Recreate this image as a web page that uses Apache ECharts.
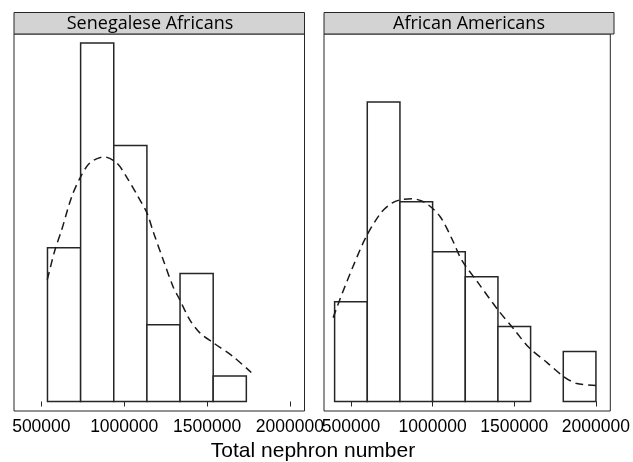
<!DOCTYPE html>
<html><head><meta charset="utf-8">
<script src="https://cdn.jsdelivr.net/npm/echarts@6/dist/echarts.min.js"></script>
<style>html,body{margin:0;padding:0;background:#fff}#c{width:633px;height:462px}</style>
</head><body><div id="c"></div>
<script>
// Panel titles
const panels = ['Senegalese Africans', 'African Americans'];
// Histogram bin breaks and counts
const leftBreaks = [537000, 737000, 937000, 1137000, 1337000, 1537000, 1737000];
const leftCounts = [6, 14, 10, 3, 5, 1];
const rightBreaks = [400000, 600000, 800000, 1000000, 1200000, 1400000, 1600000, 1800000, 2000000];
const rightCounts = [4, 12, 8, 6, 5, 3, 0, 2];
// Density curves (in percent-of-total-per-bin units)
const leftDensX = [536000, 582500, 623000, 683000, 737000, 793000, 877700, 954000, 1014000, 1084000, 1137000, 1175000, 1235000, 1295000, 1335000, 1395000, 1455000, 1536000, 1657000, 1767000];
const leftDensY = [12.2, 15.2, 17.2, 20.5, 22.5, 23.9, 24.5, 23.9, 22.5, 20.5, 18.9, 17.0, 14.2, 11.5, 10.2, 8.2, 6.9, 5.9, 4.5, 2.9];
const rightDensX = [391000, 431700, 512100, 593100, 683800, 753900, 804700, 874800, 955800, 1046500, 1120800, 1177000, 1278000, 1399000, 1500000, 1590000, 1701000, 1802000, 1883000, 2000000];
const rightDensY = [8.4, 10.2, 13.5, 16.5, 18.9, 19.9, 20.2, 20.3, 19.9, 18.5, 16.2, 14.2, 11.9, 9.2, 7.2, 5.4, 3.9, 2.5, 1.8, 1.6];
// Tick labels
const xTicks = [500000, 1000000, 1500000, 2000000];
const xLabel = 'Total nephron number';

function histData(breaks, counts) {
  const total = counts.reduce((a, b) => a + b, 0);
  const out = [];
  for (let i = 0; i < counts.length; i++) {
    if (counts[i] > 0) out.push([breaks[i], breaks[i + 1], counts[i] / total * 100]);
  }
  return out;
}
function zip(xs, ys) { return xs.map((x, i) => [x, ys[i]]); }

const renderBar = function (params, api) {
  const p0 = api.coord([api.value(0), api.value(2)]);
  const p1 = api.coord([api.value(1), 0]);
  return {
    type: 'rect',
    shape: { x: p0[0], y: p0[1], width: p1[0] - p0[0], height: p1[1] - p0[1] },
    style: { fill: '#fff', stroke: '#262626', lineWidth: 1.5 }
  };
};

const grids = [
  { left: 14, right: 328.5, top: 34, bottom: 51 },
  { left: 324, right: 19, top: 34, bottom: 51 }
];
const xAxes = grids.map((g, i) => ({
  type: 'value', gridIndex: i, min: 335000, max: 2088000,
  splitLine: { show: false },
  axisLine: { show: false },
  axisTick: { show: true, length: 5, inside: false, customValues: xTicks, lineStyle: { color: '#262626', width: 1 } },
  axisLabel: { show: true, customValues: xTicks, margin: 7, fontSize: 17.5, color: '#000', fontFamily: 'Liberation Sans, Arial, sans-serif', formatter: v => String(v) }
}));
const yAxes = grids.map((g, i) => ({
  type: 'value', gridIndex: i, min: -0.95, max: 36.8, show: false, splitLine: { show: false }
}));

const chart = echarts.init(document.getElementById('c'), null, { renderer: 'canvas' });
chart.setOption({
  backgroundColor: '#fff',
  animation: false,
  grid: grids.map(g => Object.assign({ show: true, borderColor: '#262626', borderWidth: 1, backgroundColor: 'transparent' }, g)),
  xAxis: xAxes,
  yAxis: yAxes,
  series: [
    { type: 'custom', xAxisIndex: 0, yAxisIndex: 0, renderItem: renderBar, encode: { x: [0, 1], y: 2 }, data: histData(leftBreaks, leftCounts), clip: false },
    { type: 'custom', xAxisIndex: 1, yAxisIndex: 1, renderItem: renderBar, encode: { x: [0, 1], y: 2 }, data: histData(rightBreaks, rightCounts), clip: false },
    { type: 'line', xAxisIndex: 0, yAxisIndex: 0, data: zip(leftDensX, leftDensY), smooth: 0.3, showSymbol: false, symbol: 'none', lineStyle: { color: '#1a1a1a', width: 1.5, type: [8, 5] } },
    { type: 'line', xAxisIndex: 1, yAxisIndex: 1, data: zip(rightDensX, rightDensY), smooth: 0.3, showSymbol: false, symbol: 'none', lineStyle: { color: '#1a1a1a', width: 1.5, type: [8, 5] } }
  ],
  graphic: [
    { type: 'rect', shape: { x: 14, y: 12.5, width: 290.5, height: 21.5 }, style: { fill: '#d3d3d3', stroke: '#262626', lineWidth: 1 } },
    { type: 'rect', shape: { x: 324, y: 12.5, width: 290, height: 21.5 }, style: { fill: '#d3d3d3', stroke: '#262626', lineWidth: 1 } },
    { type: 'text', x: 150, y: 23.5, style: { text: panels[0], textAlign: 'center', textVerticalAlign: 'middle', fontSize: 18, fontFamily: 'Open Sans, Noto Sans, sans-serif', fill: '#000' } },
    { type: 'text', x: 469, y: 23.5, style: { text: panels[1], textAlign: 'center', textVerticalAlign: 'middle', fontSize: 18, fontFamily: 'Open Sans, Noto Sans, sans-serif', fill: '#000' } },
    { type: 'text', x: 313, y: 451, style: { text: xLabel, textAlign: 'center', textVerticalAlign: 'middle', fontSize: 21, fontFamily: 'Liberation Sans, Arial, sans-serif', fill: '#000' } }
  ]
});
</script></body></html>
